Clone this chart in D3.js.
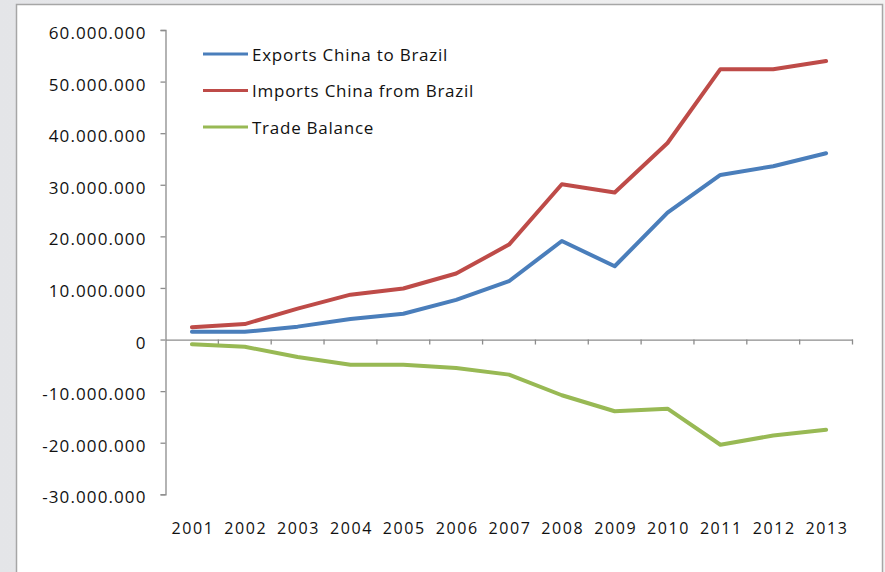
<!DOCTYPE html>
<html><head><meta charset="utf-8">
<script src="https://cdn.jsdelivr.net/npm/d3@7"></script>
<style>
html,body{margin:0;padding:0;background:#ebebeb;}
svg{display:block;}
text{font-family:"Open Sans",sans-serif;fill:#111;}
</style></head>
<body>
<svg id="chart" width="885" height="572"></svg>
<script>
const years = ["2001","2002","2003","2004","2005","2006","2007","2008","2009","2010","2011","2012","2013"];
const exportsChinaToBrazil = [1.5e6,1.5e6,2.5e6,4.0e6,5.0e6,7.7e6,11.3e6,19.1e6,14.2e6,24.6e6,31.9e6,33.6e6,36.1e6];
const importsChinaFromBrazil = [2.4e6,3.0e6,6.0e6,8.7e6,9.9e6,12.8e6,18.4e6,30.1e6,28.5e6,38.1e6,52.4e6,52.4e6,54.0e6];
const tradeBalance = [-0.9e6,-1.4e6,-3.4e6,-4.9e6,-4.9e6,-5.5e6,-6.8e6,-10.8e6,-13.9e6,-13.4e6,-20.4e6,-18.6e6,-17.5e6];
const yTicks = [-30e6,-20e6,-10e6,0,10e6,20e6,30e6,40e6,50e6,60e6];
const seriesNames = ["Exports China to Brazil","Imports China from Brazil","Trade Balance"];
const seriesColors = ["#4a7ebb","#be4b48","#98b954"];

const svg = d3.select("#chart");
// outer background & frame
const bg = svg.append("defs").append("linearGradient").attr("id","bgGrad").attr("x1","0").attr("x2","1");
bg.append("stop").attr("offset","0").attr("stop-color","#e4e5e8");
bg.append("stop").attr("offset","1").attr("stop-color","#f2f2f2");
svg.append("rect").attr("width",885).attr("height",572).attr("fill","url(#bgGrad)");
svg.append("rect").attr("x",16.5).attr("y",4.5).attr("width",866).attr("height",580)
  .attr("fill","#fff").attr("stroke","#a6a6a6").attr("stroke-width",1.5);

const x = d3.scaleBand().domain(years).range([165.5, 852.5]);
const y = d3.scaleLinear().domain([-30e6, 60e6]).range([494.3, 30]);

const fmt = v => d3.format(",")(v).replace(/,/g,".").replace(/\u2212/g,"-");

// y axis
const yAxis = svg.append("g").attr("transform","translate(165.5,0)")
  .call(d3.axisLeft(y).tickValues(yTicks).tickFormat(fmt).tickSize(5).tickPadding(14));
yAxis.select(".domain").attr("stroke","#8c8c8c").attr("stroke-width",1.3);
yAxis.selectAll(".tick line").attr("stroke","#8c8c8c").attr("stroke-width",1.3);
yAxis.selectAll("text").attr("font-size",17).attr("letter-spacing","1.1px").attr("dy","0.5em");

// x axis at zero
const xAxis = svg.append("g").attr("transform",`translate(0,${y(0)})`)
  .call(d3.axisBottom(x).tickSize(0).tickFormat(""));
xAxis.select(".domain").attr("stroke","#8c8c8c").attr("stroke-width",1.3);
xAxis.selectAll(".tick").remove();
// boundary ticks
const bounds = years.map((d,i)=> i===0 ? null : x(d)).filter(v=>v!==null).concat([x.range()[1]]);
svg.append("g").selectAll("line").data(bounds).join("line")
  .attr("x1",d=>d).attr("x2",d=>d).attr("y1",y(0)).attr("y2",y(0)+5)
  .attr("stroke","#8c8c8c").attr("stroke-width",1.3);
// year labels
svg.append("g").selectAll("text").data(years).join("text")
  .attr("x",d=>x(d)+x.bandwidth()/2+1).attr("y",534)
  .attr("text-anchor","middle").attr("font-size",16).attr("letter-spacing","1.6px")
  .text(d=>d);

// lines
const allSeries = [exportsChinaToBrazil, importsChinaFromBrazil, tradeBalance];
const line = d3.line().x((d,i)=>x(years[i])+x.bandwidth()/2).y(d=>y(d));
svg.append("g").selectAll("path").data(allSeries).join("path")
  .attr("d",line).attr("fill","none")
  .attr("stroke",(d,i)=>seriesColors[i]).attr("stroke-width",4)
  .attr("stroke-linejoin","round").attr("stroke-linecap","round");

// legend
const leg = svg.append("g").selectAll("g").data(seriesNames).join("g")
  .attr("transform",(d,i)=>`translate(203,${54+i*36.5})`);
leg.append("line").attr("x1",0).attr("x2",45).attr("y1",0).attr("y2",0)
  .attr("stroke",(d,i)=>seriesColors[i]).attr("stroke-width",3);
leg.append("text").attr("x",49).attr("dy","0.4em").attr("font-size",17)
  .attr("letter-spacing","0.75px").text(d=>d);
</script>
</body></html>
